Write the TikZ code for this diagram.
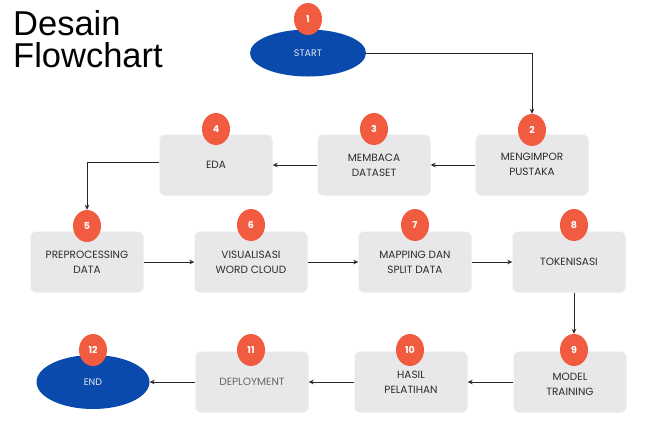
\documentclass[tikz,border=0pt]{standalone}
\usepackage{fontspec}
\setmainfont{Liberation Sans}
\newfontfamily\boxfont{Poppins}
\usetikzlibrary{shapes.geometric,arrows.meta}
\definecolor{boxgray}{HTML}{E8E8EA}
\definecolor{badgered}{HTML}{F15B40}
\definecolor{ovalblue}{HTML}{0A4AAD}
\definecolor{txtgray}{HTML}{2C2C2C}
\definecolor{lightgray}{HTML}{666666}
\tikzset{
  stepbox/.style={rectangle, rounded corners=6pt, fill=boxgray, minimum width=113pt, minimum height=61pt, align=center, font=\boxfont\fontsize{10.5}{15}\selectfont, text=txtgray, inner sep=0pt},
  oval/.style={ellipse, fill=ovalblue, minimum width=116pt, minimum height=47pt, inner sep=0pt, font=\boxfont\fontsize{9.5}{11}\selectfont, text=boxgray},
  badge/.style={ellipse, fill=badgered, minimum width=28pt, minimum height=32pt, inner sep=0pt, text=white, font=\boxfont\bfseries\fontsize{9.5}{11}\selectfont},
  conn/.style={draw=black!85, line width=1pt, -{Stealth[length=5pt,width=4.5pt]}}
}
\begin{document}
\begin{tikzpicture}[x=1pt,y=-1pt]
\useasboundingbox (0,0) rectangle (654,421);
\fill[white] (0,0) rectangle (654,421);
\node[anchor=north west, align=left, font=\fontsize{34.5}{32}\selectfont, inner sep=0pt] (title) at (13,10) {Desain\\Flowchart};
% start
\node[oval] (start) at (308,53) {START};
\node[badge] (b1) at (308,19) {1};
% row 1
\node[stepbox] (s2) at (532,165) {\\[-9pt]MENGIMPOR\\PUSTAKA};
\node[badge] (b2) at (532,130) {2};
\node[stepbox] (s3) at (374,165) {MEMBACA\\DATASET};
\node[badge] (b3) at (374,129) {3};
\node[stepbox] (s4) at (216,165) {EDA};
\node[badge] (b4) at (216,129) {4};
% row 2
\node[stepbox] (s5) at (87,262) {PREPROCESSING\\DATA};
\node[badge] (b5) at (87,226) {5};
\node[stepbox] (s6) at (251,262) {VISUALISASI\\WORD CLOUD};
\node[badge] (b6) at (251,225) {6};
\node[stepbox] (s7) at (415,262) {MAPPING DAN\\SPLIT DATA};
\node[badge] (b7) at (415,225) {7};
\node[stepbox] (s8) at (569,262) {TOKENISASI};
\node[badge] (b8) at (574,225) {8};
% row 3
\node[stepbox] (s9) at (570,382) {\\[-3pt]MODEL\\TRAINING};
\node[badge] (b9) at (574,350) {9};
\node[stepbox] (s10) at (411,382) {HASIL\\PELATIHAN};
\node[badge] (b10) at (410,350) {10};
\node[stepbox, text=lightgray] (s11) at (252,382) {DEPLOYMENT};
\node[badge] (b11) at (251,350) {11};
\node[oval, minimum width=113pt, minimum height=54pt] (end) at (93,382) {END};
\node[badge] (b12) at (93,350) {12};
% connectors
\draw[conn] (start.east) -| (b2.north);
\draw[conn] (s2.west) -- (s3.east);
\draw[conn] (s3.west) -- (s4.east);
\draw[conn] ([yshift=3pt]s4.west) -| (b5.north);
\draw[conn] (s5.east) -- (s6.west);
\draw[conn] (s6.east) -- (s7.west);
\draw[conn] (s7.east) -- (s8.west);
\draw[conn] (s8.south -| b9) -- (b9.north);
\draw[conn] (s9.west) -- (s10.east);
\draw[conn] (s10.west) -- (s11.east);
\draw[conn] (s11.west) -- (end.east);
\end{tikzpicture}
\end{document}
